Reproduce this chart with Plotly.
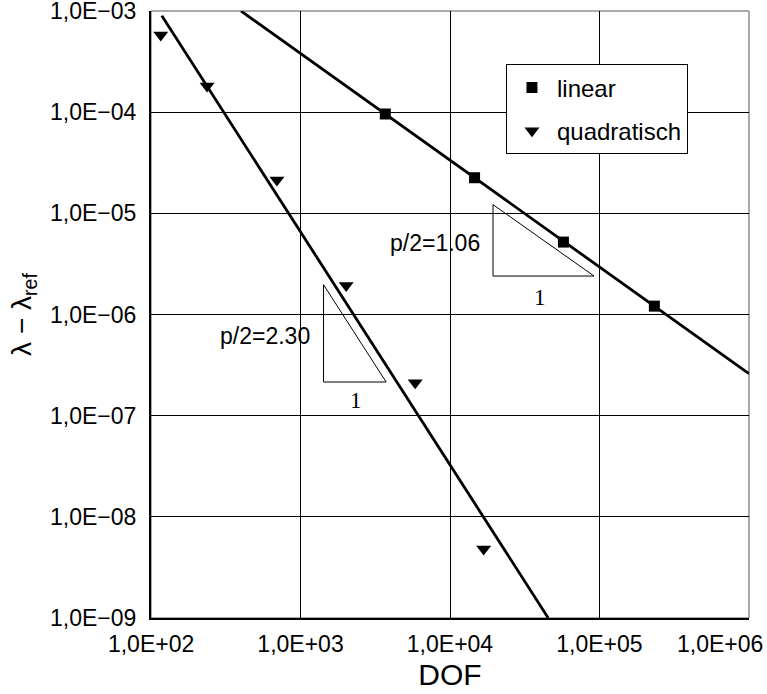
import plotly.graph_objects as go

# ---- data ----
lin_dof = [3690, 14600, 57400, 233000]
lin_err = [9.6e-5, 2.25e-5, 5.2e-6, 1.21e-6]
quad_dof = [116, 237, 695, 2020, 5850, 16800]
quad_err = [5.8e-4, 1.82e-4, 2.14e-5, 1.94e-6, 2.11e-7, 4.8e-9]

lin_fit_dof = [400, 1.0e6]
lin_fit_err = [1.0e-3, 2.6e-7]
quad_fit_dof = [118, 45400]
quad_fit_err = [9.0e-4, 1.0e-9]

lin_tri_dof = [19400, 19400, 92000, 19400]
lin_tri_err = [1.22e-5, 2.4e-6, 2.4e-6, 1.22e-5]
quad_tri_dof = [1425, 1425, 3740, 1425]
quad_tri_err = [1.97e-6, 2.15e-7, 2.15e-7, 1.97e-6]

lin_label = "p/2=1.06"
quad_label = "p/2=2.30"

x_tickvals = [1e2, 1e3, 1e4, 1e5, 1e6]
x_ticktext = ["1,0E+02", "1,0E+03", "1,0E+04", "1,0E+05", "1,0E+06" + "\u00a0" * 9]
y_tickvals = [1e-3, 1e-4, 1e-5, 1e-6, 1e-7, 1e-8, 1e-9]
y_ticktext = ["1,0E\u221203", "1,0E\u221204", "1,0E\u221205", "1,0E\u221206",
              "1,0E\u221207", "1,0E\u221208", "1,0E\u221209"]

FONT = "Liberation Sans, Arial, sans-serif"
EPS = 0.0006

fig = go.Figure()

# fit lines
fig.add_trace(go.Scatter(x=lin_fit_dof, y=lin_fit_err, mode="lines",
                         line=dict(color="black", width=2.8), showlegend=False,
                         hoverinfo="skip"))
fig.add_trace(go.Scatter(x=quad_fit_dof, y=quad_fit_err, mode="lines",
                         line=dict(color="black", width=2.8), showlegend=False,
                         hoverinfo="skip"))
# slope triangles
fig.add_trace(go.Scatter(x=lin_tri_dof, y=lin_tri_err, mode="lines",
                         line=dict(color="black", width=1), showlegend=False,
                         hoverinfo="skip"))
fig.add_trace(go.Scatter(x=quad_tri_dof, y=quad_tri_err, mode="lines",
                         line=dict(color="black", width=1), showlegend=False,
                         hoverinfo="skip"))

# data points
fig.add_trace(go.Scatter(x=lin_dof, y=lin_err, mode="markers", name="linear",
                         legendgroup="a",
                         marker=dict(symbol="square", size=11, color="black")))
fig.add_trace(go.Scatter(x=quad_dof, y=quad_err, mode="markers", name="quadratisch",
                         legendgroup="b",
                         marker=dict(symbol="triangle-down", size=13, color="black")))

# annotations
ann_font = dict(family=FONT, size=23, color="black")
serif_font = dict(family="Liberation Serif, Times New Roman, serif", size=23, color="black")
annotations = [
    dict(x=4.2154, y=-5.2974, text=lin_label, showarrow=False, xanchor="right",
         yanchor="middle", font=ann_font),
    dict(x=3.0783, y=-6.2164, text=quad_label, showarrow=False, xanchor="right",
         yanchor="middle", font=ann_font),
    dict(x=4.6033, y=-5.831, text="1", showarrow=False, xanchor="center",
         yanchor="middle", font=serif_font),
    dict(x=3.3726, y=-6.849, text="1", showarrow=False, xanchor="center",
         yanchor="middle", font=serif_font),
]

fig.update_layout(
    width=767, height=694,
    margin=dict(l=151, r=18, t=11, b=76, autoexpand=False),
    paper_bgcolor="white", plot_bgcolor="white",
    font=dict(family=FONT, size=23, color="black"),
    annotations=annotations,
    shapes=[dict(type="rect", xref="paper", yref="paper", x0=0, x1=1, y0=0, y1=1,
                 line=dict(color="#555555", width=1), layer="below")],
    legend=dict(x=0.5936, y=0.912, xanchor="left", yanchor="top",
                bgcolor="white", bordercolor="black", borderwidth=1,
                font=dict(family=FONT, size=24, color="black"),
                itemwidth=40, tracegroupgap=9),
    showlegend=True,
)

fig.update_xaxes(type="log", range=[2 - EPS, 6 + EPS], tickvals=x_tickvals, ticktext=x_ticktext,
                 showgrid=True, gridcolor="black", gridwidth=1,
                 showline=True, linecolor="black", linewidth=2,
                 ticks="", ticklabelstandoff=4, zeroline=False,
                 ticklabeloverflow="allow", automargin=False,
                 tickfont=dict(family=FONT, size=23, color="black"),
                 title=dict(text="DOF", font=dict(family=FONT, size=30, color="black"),
                            standoff=8))
fig.update_yaxes(type="log", range=[-9 - EPS, -3 + EPS], tickvals=y_tickvals, ticktext=y_ticktext,
                 showgrid=True, gridcolor="black", gridwidth=1,
                 showline=True, linecolor="black", linewidth=2,
                 ticks="", ticklabelstandoff=8, zeroline=False,
                 ticklabeloverflow="allow", automargin=False,
                 tickfont=dict(family=FONT, size=23, color="black"),
                 title=dict(text="\u03bb \u2212 \u03bb<sub>ref</sub>",
                            font=dict(family=FONT, size=28, color="black"),
                            standoff=10))

fig.write_html("out.html")
